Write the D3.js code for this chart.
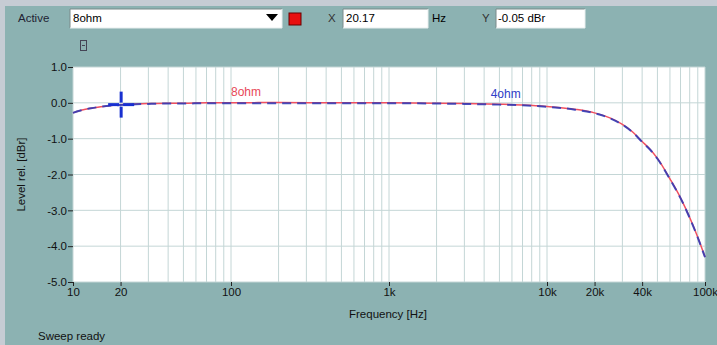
<!DOCTYPE html>
<html>
<head>
<meta charset="utf-8">
<title></title>
<style>
  body { margin: 0; background: #8cb2b2; }
  svg { display: block; font-family: "Liberation Sans", Arial, sans-serif; }
  .axis text { font-size: 11.5px; fill: #111; }
  .axis line { stroke: #222; }
  .axis path { display: none; }
  .grid line { stroke: #c4d6d6; }
</style>
<script src="https://d3js.org/d3.v7.min.js"></script>
</head>
<body>
<script>
// measured frequency points (Hz)
const freq = [10, 11, 12, 13, 15, 17, 20, 25, 30, 40, 50, 70, 100, 200, 500, 1000, 2000, 3000, 5000, 7000,
              10000, 15000, 20000, 25000, 30000, 35000, 40000, 45000, 50000, 60000, 70000, 80000, 90000, 100000]
// level rel. [dBr]
const level8ohm = [-0.28, -0.22, -0.18, -0.15, -0.11, -0.08, -0.05, -0.03, -0.02, -0.01, -0.01, 0.0, 0.0, 0.01, 0.0, 0.0, -0.01, -0.02, -0.04, -0.06,
                   -0.10, -0.18, -0.28, -0.42, -0.60, -0.82, -1.08, -1.30, -1.55, -2.12, -2.65, -3.20, -3.75, -4.30]
const level4ohm = [-0.28, -0.22, -0.18, -0.15, -0.11, -0.08, -0.06, -0.04, -0.03, -0.02, -0.02, -0.01, -0.01, -0.01, -0.01, -0.01, -0.02, -0.03, -0.05, -0.07,
                   -0.11, -0.19, -0.29, -0.43, -0.61, -0.83, -1.09, -1.31, -1.56, -2.13, -2.66, -3.21, -3.76, -4.31]

const xTicks = [10, 20, 100, 1000, 10000, 20000, 40000, 100000]
const xTickLabels = ["10", "20", "100", "1k", "10k", "20k", "40k", "100k"]
const yTicks = [1, 0, -1, -2, -3, -4, -5]

const cursorX = 20.17
const cursorY = -0.05

var W = 717, H = 345
var plot = { left: 73, top: 67, right: 705, bottom: 282 }

var svg = d3.select("body").append("svg").attr("width", W).attr("height", H)

// window chrome
svg.append("rect").attr("width", W).attr("height", H).attr("fill", "#8cb2b2")
svg.append("rect").attr("width", W).attr("height", 6).attr("fill", "#c6ccd4")
svg.append("rect").attr("width", 5).attr("height", H).attr("fill", "#c6ccd4")

// toolbar
function box(x, y, w, h) {
  svg.append("rect").attr("x", x).attr("y", y).attr("width", w).attr("height", h).attr("fill", "#fff")
  svg.append("path").attr("d", `M${x},${y + h}V${y}H${x + w}`).attr("fill", "none").attr("stroke", "#7a8a8a")
  svg.append("path").attr("d", `M${x},${y + h}H${x + w}V${y}`).attr("fill", "none").attr("stroke", "#e8eeee")
}
var tb = svg.append("g").attr("font-size", "11.5px").attr("fill", "#111")
tb.append("text").attr("x", 18).attr("y", 22).text("Active").attr("fill", "#223")
box(70, 9, 212, 19)
svg.append("text").attr("x", 73).attr("y", 22).attr("font-size", "11.5px").text("8ohm")
svg.append("path").attr("d", "M266,14H278L272,21Z").attr("fill", "#000")
svg.append("rect").attr("x", 289).attr("y", 13).attr("width", 12).attr("height", 12).attr("fill", "#e81010").attr("stroke", "#600")
svg.append("text").attr("x", 328).attr("y", 22).attr("font-size", "11.5px").attr("fill", "#333").text("X")
box(343, 9, 85, 19)
svg.append("text").attr("x", 346).attr("y", 22).attr("font-size", "11.5px").text("20.17")
svg.append("text").attr("x", 432).attr("y", 22).attr("font-size", "11.5px").text("Hz")
svg.append("text").attr("x", 482).attr("y", 22).attr("font-size", "11.5px").attr("fill", "#333").text("Y")
box(496, 9, 89, 19)
svg.append("text").attr("x", 498).attr("y", 22).attr("font-size", "11.5px").text("-0.05 dBr")

// small [-] icon
svg.append("rect").attr("x", 80.5).attr("y", 40.5).attr("width", 6).attr("height", 10).attr("fill", "none").attr("stroke", "#445")
svg.append("line").attr("x1", 82).attr("x2", 85).attr("y1", 45.5).attr("y2", 45.5).attr("stroke", "#445")

// scales
var x = d3.scaleLog().domain([10, 100000]).range([plot.left, plot.right])
var y = d3.scaleLinear().domain([-5, 1]).range([plot.bottom, plot.top])

svg.append("rect").attr("x", plot.left).attr("y", plot.top)
   .attr("width", plot.right - plot.left).attr("height", plot.bottom - plot.top).attr("fill", "#fff")

// grid
var minor = []
for (var d = 10; d < 100000; d *= 10) for (var m = 1; m < 10; m++) minor.push(d * m)
minor.push(100000)
svg.append("g").attr("class", "grid").selectAll("line").data(minor).enter().append("line")
   .attr("x1", d => x(d)).attr("x2", d => x(d)).attr("y1", plot.top).attr("y2", plot.bottom)
svg.append("g").attr("class", "grid").selectAll("line").data(yTicks).enter().append("line")
   .attr("x1", plot.left).attr("x2", plot.right).attr("y1", d => y(d)).attr("y2", d => y(d))

// axes
svg.append("g").attr("class", "axis").attr("transform", `translate(${plot.left},0)`)
   .call(d3.axisLeft(y).tickValues(yTicks).tickSize(5).tickPadding(1).tickFormat(d => d.toFixed(1)))
svg.append("g").attr("class", "axis").attr("transform", `translate(0,${plot.bottom})`)
   .call(d3.axisBottom(x).tickValues(xTicks).tickSize(4).tickPadding(2).tickFormat((d, i) => xTickLabels[i]))

svg.append("text").attr("transform", `translate(25,${(plot.top + plot.bottom) / 2}) rotate(-90)`)
   .attr("text-anchor", "middle").attr("font-size", "11.5px").attr("fill", "#111").text("Level rel. [dBr]")
svg.append("text").attr("x", 388).attr("y", 318).attr("text-anchor", "middle")
   .attr("font-size", "11.5px").attr("fill", "#111").text("Frequency [Hz]")
svg.append("text").attr("x", 38).attr("y", 340).attr("font-size", "11.5px").attr("fill", "#111").text("Sweep ready")

// curves
var line = d3.line().x(d => x(d[0])).y(d => y(d[1])).curve(d3.curveMonotoneX)
svg.append("path").datum(freq.map((f, i) => [f, level8ohm[i]]))
   .attr("d", line).attr("fill", "none").attr("stroke", "#f05060").attr("stroke-width", 1.5)
svg.append("path").datum(freq.map((f, i) => [f, level4ohm[i]]))
   .attr("d", line).attr("fill", "none").attr("stroke", "#2838b8").attr("stroke-width", 2)
   .attr("stroke-dasharray", "9,6").attr("opacity", 0.85)

svg.append("text").attr("x", x(100)).attr("y", 96).attr("font-size", "12px").attr("fill", "#e84858").text("8ohm")
svg.append("text").attr("x", x(4400)).attr("y", 98).attr("font-size", "12px").attr("fill", "#3040c8").text("4ohm")

// cursor
var cx = x(cursorX), cy = y(cursorY)
var cur = svg.append("g").attr("stroke", "#1830d0").attr("stroke-width", 3)
cur.append("line").attr("x1", cx - 13).attr("x2", cx - 2).attr("y1", cy).attr("y2", cy)
cur.append("line").attr("x1", cx + 2).attr("x2", cx + 13).attr("y1", cy).attr("y2", cy)
cur.append("line").attr("x1", cx).attr("x2", cx).attr("y1", cy - 13).attr("y2", cy - 2)
cur.append("line").attr("x1", cx).attr("x2", cx).attr("y1", cy + 2).attr("y2", cy + 13)
</script>
</body>
</html>
